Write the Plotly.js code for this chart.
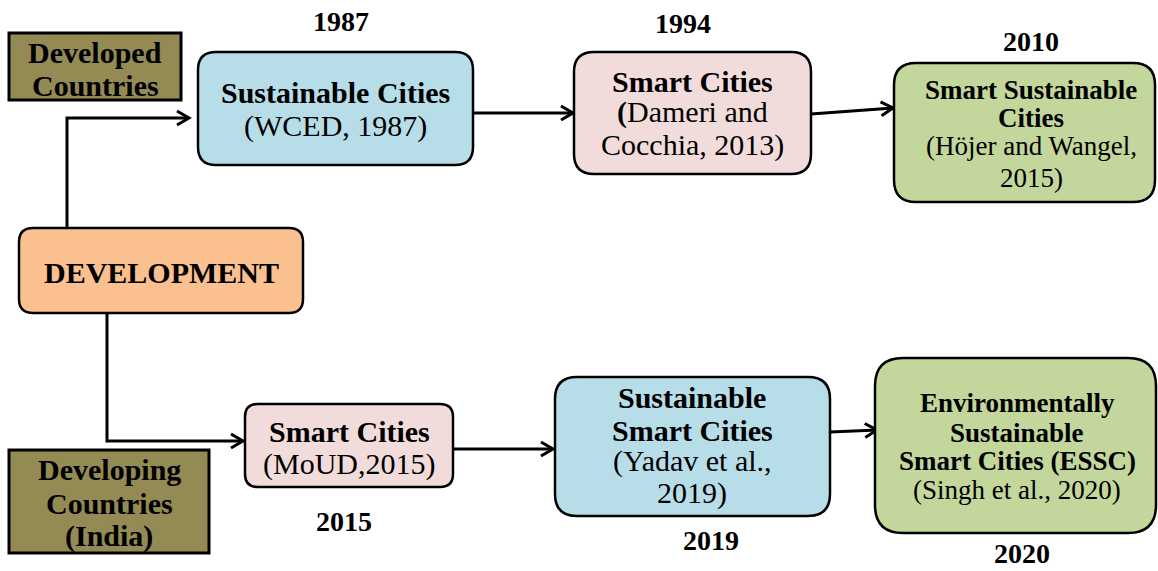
<!DOCTYPE html>
<html>
<head>
<meta charset="utf-8">
<script src="https://cdn.plot.ly/plotly-3.0.1.min.js"></script>
<style>html,body{margin:0;padding:0;background:#fff;}#chart{width:1158px;height:571px;}</style>
</head>
<body>
<div id="chart"></div>
<script>
// ---------- DATA (content only) ----------
const rootLabel = "DEVELOPMENT";
const regionLabels = [
  ["Developed", "Countries"],
  ["Developing", "Countries", "(India)"]
];
const stageTitles = [
  ["Sustainable Cities"],
  ["Smart Cities"],
  ["Smart Sustainable", "Cities"],
  ["Smart Cities"],
  ["Sustainable", "Smart Cities"],
  ["Environmentally", "Sustainable", "Smart Cities (ESSC)"]
];
const stageSources = [
  ["(WCED, 1987)"],
  ["<b>(</b>Dameri and", "Cocchia, 2013)"],
  ["(Höjer and Wangel,", "2015)"],
  ["(MoUD,2015)"],
  ["(Yadav et al.,", "2019)"],
  ["(Singh et al., 2020)"]
];
const stageYears = ["1987", "1994", "2010", "2015", "2019", "2020"];
const stageFill = ["#B7DDE8", "#F2DCDB", "#C3D69B", "#F2DCDB", "#B7DDE8", "#C3D69B"];

// ---------- GEOMETRY (layout, pixel space) ----------
const rootBox = [19, 228, 303, 313];
const regionBoxes = [[9, 33, 181, 100], [9, 450, 209, 553]];
const regionLineY = [[52, 85], [469, 503, 536]];
const stageBoxes = [
  [198, 52, 473, 165],
  [574, 52, 811, 174],
  [894, 63, 1155, 202],
  [245, 404, 453, 487],
  [555, 377, 830, 516],
  [875, 358, 1156, 533]
];
const stageTextX = [335, 692, 1031, 349, 692, 1017];
const stageLineY = [
  [92, 126],
  [81, 112, 145],
  [90, 118, 146, 178],
  [431, 464],
  [397, 430, 461, 493],
  [403, 433, 461, 490]
];
const stageFont = [30, 30, 27, 30, 30, 27];
const yearPos = [[341, 21], [683, 23], [1031, 41], [344, 521], [711, 540], [1022, 553]];
const connectors = [
  [[67, 228], [67, 118], [189, 118]],
  [[473, 113], [573, 113]],
  [[811, 114], [893, 108]],
  [[107, 313], [107, 441], [243, 441]],
  [[453, 449], [553, 449]],
  [[830, 432], [877, 430]]
];

const FONT = "Liberation Serif, Times New Roman, serif";
const shapes = [];
const annotations = [];

function roundRect(b, r) {
  const [x0, y0, x1, y1] = b;
  return `M${x0 + r},${y0} L${x1 - r},${y0} Q${x1},${y0} ${x1},${y0 + r} L${x1},${y1 - r} Q${x1},${y1} ${x1 - r},${y1} L${x0 + r},${y1} Q${x0},${y1} ${x0},${y1 - r} L${x0},${y0 + r} Q${x0},${y0} ${x0 + r},${y0} Z`;
}
function addText(x, y, text, size, bold) {
  annotations.push({
    x: x, y: y, xref: "x", yref: "y", showarrow: false,
    xanchor: "center", yanchor: "middle",
    text: bold ? "<b>" + text + "</b>" : text,
    font: {family: FONT, size: size, color: "#000"}
  });
}

// connectors with open arrowheads
connectors.forEach(pts => {
  const d = pts.map((p, i) => (i ? "L" : "M") + p[0] + "," + p[1]).join(" ");
  shapes.push({type: "path", path: d, xref: "x", yref: "y", line: {color: "#000", width: 3}, layer: "below"});
  const a = pts[pts.length - 2], t = pts[pts.length - 1];
  const dx = t[0] - a[0], dy = t[1] - a[1], len = Math.hypot(dx, dy);
  const ux = dx / len, uy = dy / len, nx = -uy, ny = ux, L = 12, W = 7;
  const p1 = [t[0] - L * ux + W * nx, t[1] - L * uy + W * ny];
  const p2 = [t[0] - L * ux - W * nx, t[1] - L * uy - W * ny];
  shapes.push({type: "path", path: `M${p1[0]},${p1[1]} L${t[0]},${t[1]} L${p2[0]},${p2[1]}`,
    xref: "x", yref: "y", line: {color: "#000", width: 3}, layer: "below"});
});

// root box
shapes.push({type: "path", path: roundRect(rootBox, 14), xref: "x", yref: "y",
  fillcolor: "#FAC090", line: {color: "#000", width: 2.5}});
addText((rootBox[0] + rootBox[2]) / 2, 272, rootLabel, 30, true);

// region boxes
regionBoxes.forEach((b, i) => {
  shapes.push({type: "rect", x0: b[0], y0: b[1], x1: b[2], y1: b[3], xref: "x", yref: "y",
    fillcolor: "#948A54", line: {color: "#000", width: 3}});
  regionLabels[i].forEach((t, j) => addText((b[0] + b[2]) / 2, regionLineY[i][j], t, 30, true));
});

// stage boxes
stageBoxes.forEach((b, i) => {
  const r = Math.round(0.16 * Math.min(b[2] - b[0], b[3] - b[1]));
  shapes.push({type: "path", path: roundRect(b, r), xref: "x", yref: "y",
    fillcolor: stageFill[i], line: {color: "#000", width: 2.5}});
  const lines = stageTitles[i].map(t => [t, true]).concat(stageSources[i].map(t => [t, false]));
  lines.forEach((ln, j) => addText(stageTextX[i], stageLineY[i][j], ln[0], stageFont[i], ln[1]));
  addText(yearPos[i][0], yearPos[i][1], stageYears[i], 28, true);
});

const layout = {
  width: 1158, height: 571,
  margin: {l: 0, r: 0, t: 0, b: 0},
  paper_bgcolor: "#fff", plot_bgcolor: "#fff",
  xaxis: {range: [0, 1158], visible: false, fixedrange: true},
  yaxis: {range: [571, 0], visible: false, fixedrange: true},
  showlegend: false,
  shapes: shapes,
  annotations: annotations
};
Plotly.newPlot("chart", [{x: [], y: [], type: "scatter"}], layout, {displayModeBar: false, staticPlot: true});
</script>
</body>
</html>
